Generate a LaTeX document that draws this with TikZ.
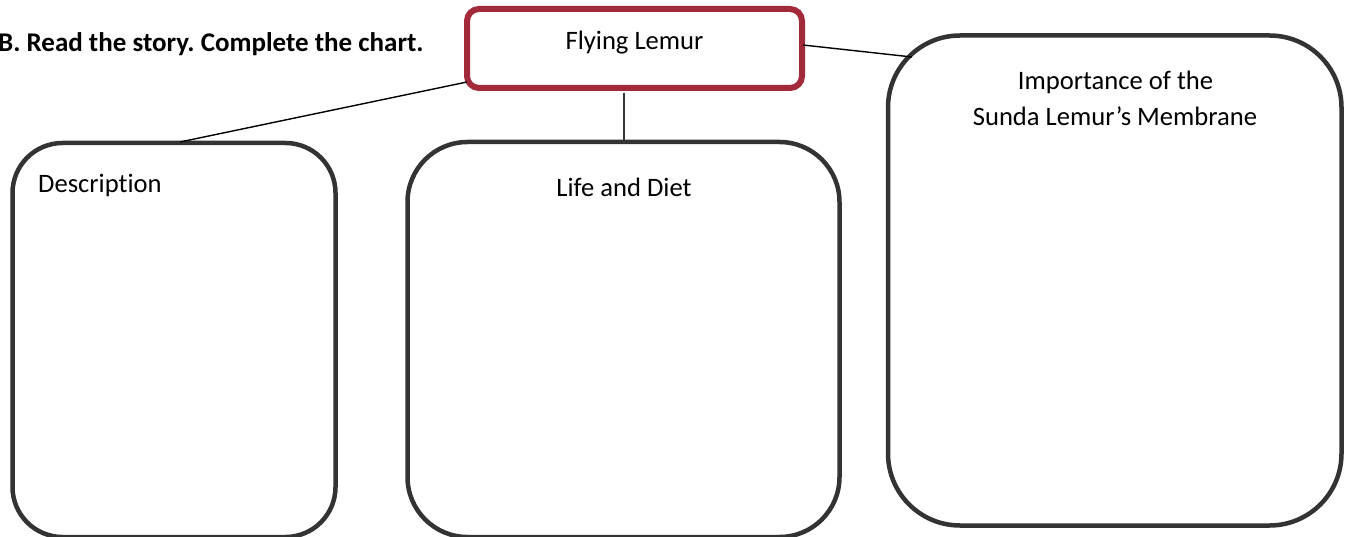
\documentclass[tikz,border=0pt]{standalone}
\usepackage{fontspec}
\setmainfont{Carlito}[Ligatures=NoCommon]
\frenchspacing
\begin{document}
\begin{tikzpicture}[x=1pt,y=-1pt,
  box/.style={draw=boxgray,line width=4.5pt,inner sep=0pt},
  topbox/.style={draw=lemurred,line width=6pt,rounded corners=12pt,inner sep=0pt,minimum width=335pt,minimum height=79pt},
  lbl/.style={font=\fontsize{26.6}{36}\selectfont,inner sep=0pt,anchor=base},
  conn/.style={line width=1.4pt,draw=black}]
\definecolor{boxgray}{HTML}{333333}
\definecolor{lemurred}{HTML}{A32A3A}
\useasboundingbox (0,0) rectangle (1346,537);
% title
\node[lbl,anchor=base west,font=\fontsize{27}{36}\selectfont\bfseries] (title) at (-2,52) {B. Read the story. Complete the chart.};
% top box
\node[topbox] (lemur) at (634.5,48.5) {};
\node[lbl] (lemurtxt) at (634.5,50) {Flying Lemur};
% boxes
\node[box,rounded corners=50pt,minimum width=323pt,minimum height=394pt] (desc) at (174,340) {};
\node[box,rounded corners=60pt,minimum width=432pt,minimum height=395pt] (life) at (623.5,339.5) {};
\node[box,rounded corners=72pt,minimum width=453.5pt,minimum height=490pt] (imp) at (1114.75,280.5) {};
% labels
\node[lbl,anchor=base west] (desctxt) at (38,193) {Description};
\node[lbl] (lifetxt) at (624,197) {Life and Diet};
\node[lbl] (imptxt1) at (1115.5,90) {Importance of the};
\node[lbl] (imptxt2) at (1115,126) {Sunda Lemur’s Membrane};
% connectors
\coordinate (c1a) at (467,82);
\coordinate (c1b) at (180,142);
\coordinate (c2a) at (624,93);
\coordinate (c2b) at (624,141);
\coordinate (c3a) at (803,45);
\coordinate (c3b) at (912,57);
\draw[conn] (c1a) -- (c1b);
\draw[conn,draw=boxgray] (c2a) -- (c2b);
\draw[conn] (c3a) -- (c3b);
\end{tikzpicture}
\end{document}
